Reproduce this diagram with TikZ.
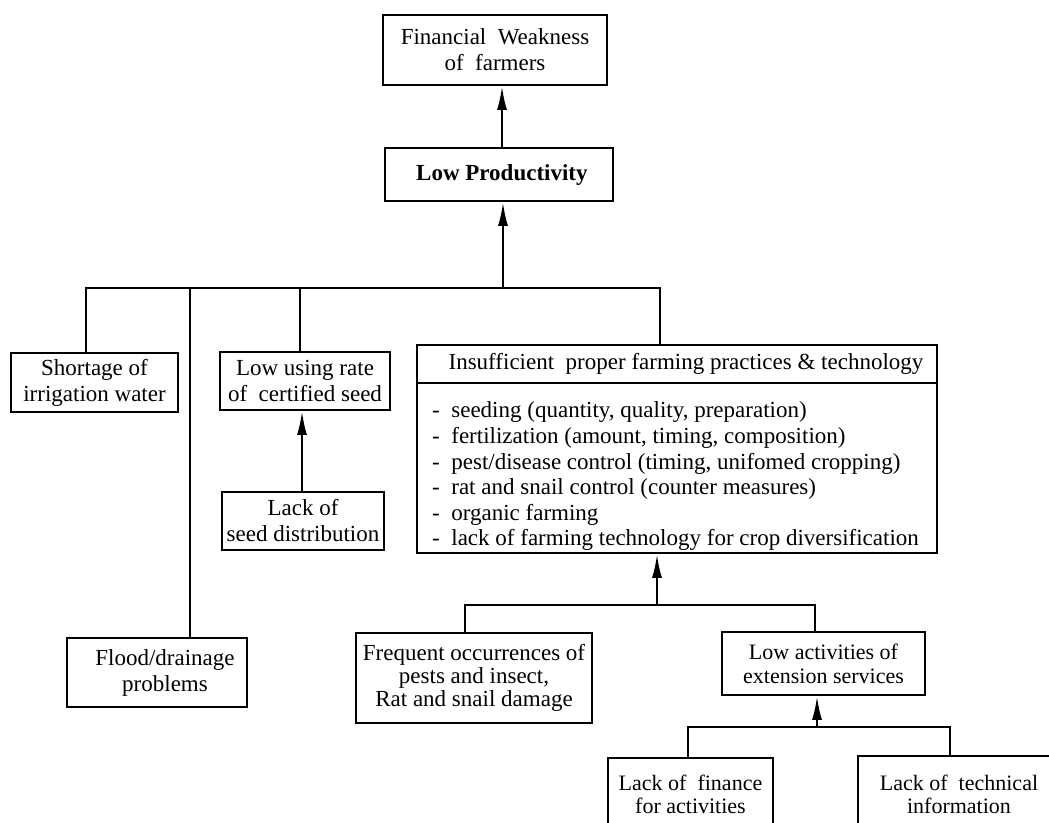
\documentclass[tikz,border=0pt]{standalone}
\usepackage{fontspec}
\setmainfont{Liberation Serif}
\usetikzlibrary{arrows.meta}
\tikzset{
  box/.style={draw, line width=1.8pt, inner sep=0pt, align=center,
    font=\fontsize{23}{26}\selectfont},
  conn/.style={line width=2.4pt, line join=miter},
  arr/.style={line width=2.4pt, -{Latex[length=24pt,width=10pt]}},
  thin/.style={line width=1.4pt}
}
\begin{document}
\begin{tikzpicture}[x=1pt,y=-1pt]
\useasboundingbox (0,0) rectangle (1049,822);
\fill[white] (0,0) rectangle (1049,822);
\clip (0,0) rectangle (1049,822);

% nodes
\node[box, minimum width=224pt, minimum height=70pt] (fw) at (495,50) {Financial\ \ Weakness\\of\ \ farmers};
\node[box, minimum width=228pt, minimum height=53pt, font=\fontsize{23}{26}\selectfont\bfseries] (lp) at (499,174.5) {\ Low Productivity};
\node[box, minimum width=167pt, minimum height=59pt] (sh) at (94.5,382.5) {Shortage of\\irrigation water};
\node[box, minimum width=170pt, minimum height=58pt] (lu) at (305,381) {Low using rate\\of\ \ certified seed};
\node[box, minimum width=162pt, minimum height=58pt] (ls) at (303,521) {Lack of\\seed distribution};
\node[box, minimum width=180pt, minimum height=69pt, text width=180pt] (fl) at (157,672.5) {\hspace*{16pt}Flood/drainage\\\hspace*{16pt}problems};
\node[box, minimum width=520pt, minimum height=208pt] (ins) at (677,449) {};
\node[box, minimum width=236pt, minimum height=90pt, font=\fontsize{23}{23}\selectfont] (fr) at (474,678) {Frequent occurrences of\\pests and insect,\\Rat and snail damage};
\node[box, minimum width=203pt, minimum height=63pt, font=\fontsize{22}{24}\selectfont] (la) at (823.5,663.5) {Low activities of\\extension services};
\node[box, anchor=north, minimum width=165pt, minimum height=73pt, font=\fontsize{22}{23}\selectfont] (lf) at (690.5,757) {Lack of\ \ finance\\for activities};
\node[box, anchor=north, minimum width=202pt, minimum height=76pt, font=\fontsize{22}{23}\selectfont] (lt) at (959,755) {Lack of\ \ technical\\information};

% contents of the practices box
\coordinate (dv) at (0,383);
\draw[thin] (ins.west |- dv) -- (ins.east |- dv);
\node[font=\fontsize{23}{26}\selectfont] (insh) at (686,364) {Insufficient\ \ proper farming practices \& technology};
\node[anchor=south west, align=left, inner sep=0pt, font=\fontsize{23}{25.6}\selectfont] (insl) at (432,551)
  {-\ \ seeding (quantity, quality, preparation)\\
   -\ \ fertilization (amount, timing, composition)\\
   -\ \ pest/disease control (timing, unifomed cropping)\\
   -\ \ rat and snail control (counter measures)\\
   -\ \ organic farming\\
   -\ \ lack of farming technology for crop diversification};

% bus coordinates
\coordinate (bL) at (86,288);
\coordinate (bF) at (190,288);
\coordinate (bU) at (300,288);
\coordinate (bM) at (503,288);
\coordinate (bR) at (660,288);
\coordinate (tA) at (502,0);
\coordinate (sA) at (302,0);
\coordinate (b2L) at (465,605);
\coordinate (b2M) at (657,605);
\coordinate (b2R) at (815,605);
\coordinate (b3L) at (688,727);
\coordinate (b3M) at (817,727);
\coordinate (b3R) at (950,727);

% connectors
\draw[arr] (lp.north -| tA) -- (fw.south -| tA);
\draw[conn] (bL |- sh.north) -- (bL) -- (bR) -- (bR |- ins.north);
\draw[conn] (bF) -- (bF |- fl.north);
\draw[conn] (bU) -- (bU |- lu.north);
\draw[arr] (bM) -- (bM |- lp.south);
\draw[arr] (ls.north -| sA) -- (lu.south -| sA);
\draw[conn] (b2L |- fr.north) -- (b2L) -- (b2R) -- (b2R |- la.north);
\draw[arr] (b2M) -- (b2M |- ins.south);
\draw[conn] (b3L |- lf.north) -- (b3L) -- (b3R) -- (b3R |- lt.north);
\draw[arr] (b3M) -- (b3M |- la.south);
\end{tikzpicture}
\end{document}
